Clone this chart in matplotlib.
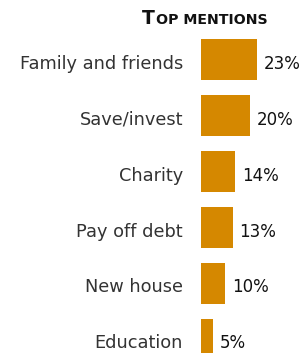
import matplotlib
matplotlib.use("Agg")
import matplotlib.pyplot as plt

categories = ["Family and friends", "Save/invest", "Charity", "Pay off debt", "New house", "Education"]
values = [23, 20, 14, 13, 10, 5]
value_labels = ["23%", "20%", "14%", "13%", "10%", "5%"]
title_first = "T"
title_rest = "OP MENTIONS"

BAR = "#D58800"
W, H = 303, 353

fig = plt.figure(figsize=(W / 100, H / 100), dpi=100)
# axes: left edge at bar baseline, top half a slot above first bar
ax = fig.add_axes([201 / W, 0, (W - 201) / W, (H - 31.5) / H])
ax.barh(range(len(values)), values, height=0.73, color=BAR)
ax.set_xlim(0, (W - 201) / 2.43)
ax.set_ylim((H - 59.5) / 56, -0.5)
ax.axis("off")

for i, (lab, v, vl) in enumerate(zip(categories, values, value_labels)):
    ax.annotate(lab, (0, i), xytext=(-18, -4), textcoords="offset pixels",
                ha="right", va="center", fontsize=12.8, color="#333333",
                family="DejaVu Sans")
    ax.annotate(vl, (v, i), xytext=(7, -4), textcoords="offset pixels",
                ha="left", va="center", fontsize=12, color="#111111",
                family="DejaVu Sans")

t1 = fig.text(142 / W, 1 - 24 / H, title_first, fontsize=13.5, fontweight="semibold",
              color="#111111", family="DejaVu Sans", va="baseline")
fig.canvas.draw()
bb = t1.get_window_extent()
fig.text((bb.x1 + 1) / W, 1 - 24 / H, title_rest, fontsize=10.2, fontweight="semibold",
         color="#111111", family="DejaVu Sans", va="baseline")

fig.savefig("out.png", dpi=100)
